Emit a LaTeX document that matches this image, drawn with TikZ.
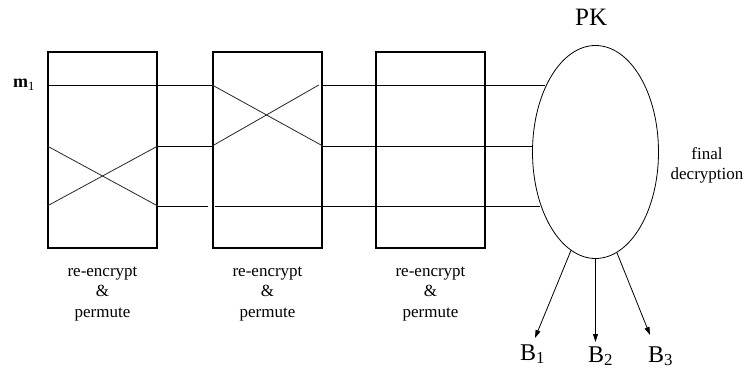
\documentclass[tikz,border=0pt]{standalone}
\usepackage{fontspec}
\setmainfont{Liberation Serif}
\usetikzlibrary{shapes.geometric,arrows.meta,positioning,calc}
\tikzset{
    mixbox/.style={rectangle, draw=black, line width=1.6pt, minimum width=109pt, minimum height=196pt, inner sep=0pt},
    decnode/.style={ellipse, draw=black, line width=0.8pt, minimum width=126pt, minimum height=213pt, inner sep=0pt},
    wire/.style={line width=0.9pt, black},
    swapwire/.style={line width=0.8pt, black!85},
    outarrow/.style={line width=0.8pt, black, -{Triangle[width=5pt,length=8pt]}},
    caption/.style={font=\fontsize{17}{20.5}\selectfont, align=center, inner sep=0pt},
    bigtext/.style={inner sep=0pt, anchor=base west},
}
\begin{document}
\begin{tikzpicture}[x=1pt,y=1pt]
    \useasboundingbox (0,0) rectangle (746,375);
    % Mix boxes
    \foreach \i/\x in {1/102.5,2/267.5,3/430.5} {
        \node[mixbox] (p\i) at (\x,225) {};
        \node[caption, anchor=base] (c\i) at (\x,58) {re-encrypt\\\&\\permute};
    }
    % Decryption
    \node[decnode] (dec) at (595.5,223) {};
    \node[bigtext, font=\fontsize{25}{30}\selectfont] (pk) at (575,349) {PK};
    \node[caption, anchor=base] (fd) at (707,195) {final\\decryption};
    % Wire levels
    \coordinate (w1) at (0,290);
    \coordinate (w2) at (0,229);
    \coordinate (w3) at (0,169);
    \coordinate (e1) at (545,290);
    \coordinate (e2) at (533,229);
    \coordinate (e3) at (540,169);
    \node[bigtext, font=\fontsize{18}{20}\selectfont] (m1) at (13,287) {\textbf{m}\textsubscript{1}};
    % Box 1
    \draw[wire] (p1.west |- w1) -- (p2.west |- w1);
    \draw[swapwire] (p1.west |- w2) -- (p1.east |- w3);
    \draw[swapwire] (p1.west |- w3) -- (p1.east |- w2);
    \draw[wire] (p1.east |- w2) -- (p2.west |- w2);
    \draw[wire] (p1.east |- w3) -- ($(p2.west |- w3)+(-4,0)$);
    % Box 2
    \draw[swapwire] (p2.west |- w1) -- (p2.east |- w2);
    \draw[swapwire] (p2.west |- w2) -- ($(p2.east |- w1)+(-4,0)$);
    \draw[wire] ($(p2.west |- w3)+(3,0)$) -- (e3);
    % Box 3
    \draw[wire] (p2.east |- w1) -- (e1);
    \draw[wire] (p2.east |- w2) -- (e2);
    % Ballots
    \coordinate (t1) at (535,37);
    \coordinate (t2) at (595.5,33);
    \coordinate (t3) at (650,40);
    \draw[outarrow] (dec.-104) -- (t1);
    \draw[outarrow] (dec.south) -- (t2);
    \draw[outarrow] (dec.-78) -- (t3);
    \node[bigtext, font=\fontsize{24}{28}\selectfont] (b1) at (520,15) {B\textsubscript{1}};
    \node[bigtext, font=\fontsize{24}{28}\selectfont] (b2) at (588,13) {B\textsubscript{2}};
    \node[bigtext, font=\fontsize{24}{28}\selectfont] (b3) at (648,13) {B\textsubscript{3}};
\end{tikzpicture}
\end{document}
